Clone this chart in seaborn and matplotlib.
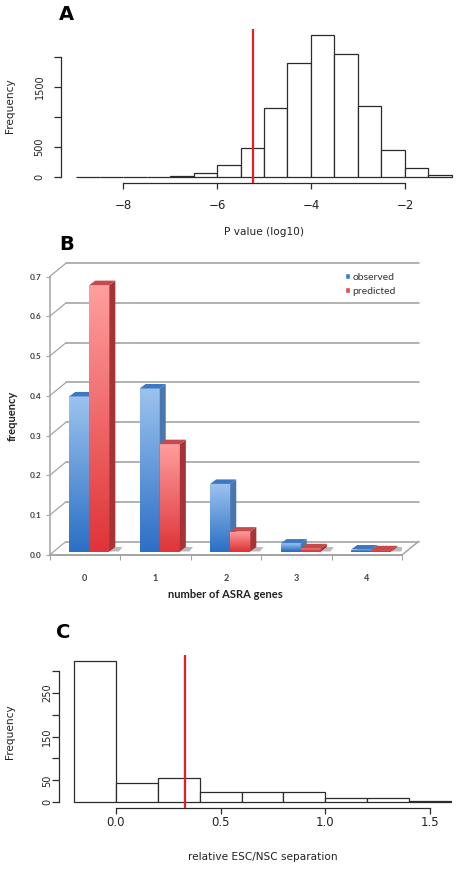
import numpy as np
import pandas as pd
import matplotlib
matplotlib.use("Agg")
import matplotlib.pyplot as plt
from matplotlib.patches import Polygon
from matplotlib.colors import LinearSegmentedColormap
import seaborn as sns

# ---- panel A: histogram of P values (log10)
a_edges = [-9.0, -8.5, -8.0, -7.5, -7.0, -6.5, -6.0, -5.5, -5.0,
           -4.5, -4.0, -3.5, -3.0, -2.5, -2.0, -1.5, -1.0]
a_counts = [0, 0, 0, 4, 25, 65, 200, 480, 1145, 1900, 2365, 2045, 1190, 460, 150, 30]
a_cutoff = -5.23
a_xticks = [-8, -6, -4, -2]
a_xlabels = ["\u22128", "\u22126", "\u22124", "\u22122"]
a_yticks = [0, 500, 1000, 1500, 2000]
a_ylabels = ["0", "500", "", "1500", ""]

# ---- panel B: observed vs predicted ASRA gene counts
b_genes = ["0", "1", "2", "3", "4"]
b_observed = [0.39, 0.41, 0.17, 0.02, 0.005]
b_predicted = [0.67, 0.27, 0.05, 0.008, 0.003]
b_yticks = [0.0, 0.1, 0.2, 0.3, 0.4, 0.5, 0.6, 0.7]

# ---- panel C: histogram of relative separation
c_edges = [-0.2, 0.0, 0.2, 0.4, 0.6, 0.8, 1.0, 1.2, 1.4, 1.6]
c_counts = [323, 43, 56, 24, 24, 24, 11, 11, 4]
c_cutoff = 0.33
c_xticks = [0.0, 0.5, 1.0, 1.5]
c_xlabels = ["0.0", "0.5", "1.0", "1.5"]
c_yticks = [0, 50, 100, 150, 200, 250, 300]
c_ylabels = ["0", "50", "", "150", "", "250", ""]

sns.set_theme(style="ticks")
plt.rcParams["font.family"] = ["DejaVu Sans"]

W, H = 457, 869
fig = plt.figure(figsize=(W / 100, H / 100), dpi=100)
fig.patch.set_facecolor("white")


def px_axes(left, top, right, bottom):
    return fig.add_axes([left / W, 1 - bottom / H, (right - left) / W, (bottom - top) / H])


def r_hist(ax, edges, counts, cutoff, xticks, xlabels, yticks, ylabels, xlabel,
           xpad, ypad, ylab_x, xlab_y):
    e = np.asarray(edges, dtype=float)
    df = pd.DataFrame({"mid": (e[:-1] + e[1:]) / 2, "count": counts})
    sns.histplot(data=df, x="mid", weights="count", bins=list(edges), stat="count",
                 color="white", edgecolor="#2b2b2b", linewidth=0.9, alpha=1, ax=ax)
    ax.axvline(cutoff, color="#ec1c24", lw=1.6, zorder=5)
    span = e[-1] - e[0]
    top = max(counts)
    ax.set_xlim(e[0] - 0.04 * span, e[-1] + 0.04 * span)
    ax.set_ylim(-0.04 * top, 1.04 * top)
    for s in ["top", "right"]:
        ax.spines[s].set_visible(False)
    for s in ["left", "bottom"]:
        ax.spines[s].set_color("#2b2b2b")
        ax.spines[s].set_linewidth(0.9)
    ax.spines["bottom"].set_bounds(xticks[0], xticks[-1])
    ax.spines["left"].set_bounds(yticks[0], yticks[-1])
    ax.set_xticks(xticks, labels=xlabels)
    ax.set_yticks(yticks, labels=ylabels)
    ax.tick_params(axis="x", length=4.2, width=0.9, color="#2b2b2b", labelsize=8.5,
                   pad=xpad, labelcolor="#222222")
    ax.tick_params(axis="y", length=4.8, width=0.9, color="#2b2b2b", labelsize=7,
                   pad=ypad, labelcolor="#222222")
    for lbl in ax.get_yticklabels():
        lbl.set_rotation(90)
        lbl.set_va("center")
    ax.set_ylabel("Frequency", fontsize=7.6, color="#222222")
    ax.yaxis.set_label_coords(ylab_x, 0.5)
    ax.yaxis.label.set_va("center")
    ax.set_xlabel(xlabel, fontsize=7.6, color="#222222")
    ax.xaxis.set_label_coords(0.5, xlab_y)
    ax.xaxis.label.set_va("center")
    ax.set_facecolor("white")


# ---------------- A
ax_a = px_axes(61, 29, 467, 183)
r_hist(ax_a, a_edges, a_counts, a_cutoff, a_xticks, a_xlabels, a_yticks, a_ylabels,
       "P value (log10)", xpad=7, ypad=7, ylab_x=(10 - 61) / 406, xlab_y=(183 - 232) / 154)

# ---------------- C
ax_c = px_axes(59, 655, 466, 808)
r_hist(ax_c, c_edges, c_counts, c_cutoff, c_xticks, c_xlabels, c_yticks, c_ylabels,
       "relative ESC/NSC separation", xpad=1.5, ypad=0, ylab_x=(10 - 59) / 407,
       xlab_y=(808 - 857) / 153)

# ---------------- B (Excel-like 3D column chart)
bl, bt, br, bb = 49.5, 276.7, 402, 555
ax_b = px_axes(bl, bt, br, bb)
series = ["observed", "predicted"]
df_b = pd.DataFrame({
    "genes": b_genes * 2,
    "frequency": b_observed + b_predicted,
    "series": [series[0]] * len(b_genes) + [series[1]] * len(b_genes),
})
sns.barplot(data=df_b, x="genes", y="frequency", hue="series", hue_order=series,
            palette={"observed": "#3b7dd0", "predicted": "#e84a4a"}, saturation=1,
            width=0.57, errorbar=None, ax=ax_b)
xmin, xmax, ymin, ymax = -0.5, len(b_genes) - 0.5, 0.0, 0.7
ax_b.set_xlim(xmin, xmax)
ax_b.set_ylim(ymin, ymax)
ux = (br - bl) / (xmax - xmin)   # px per data unit
uy = (bb - bt) / (ymax - ymin)

wall_dx, wall_dy = 16.5 / ux, 13.5 / uy
shift_x, shift_y = 4.5 / ux, 3.5 / uy
deep_x, deep_y = 6.0 / ux, 4.5 / uy
gridc = "#a4a4a4"

for v in b_yticks:
    ax_b.plot([xmin + wall_dx, xmax + wall_dx], [v + wall_dy, v + wall_dy],
              color=gridc, lw=1.2, clip_on=False, zorder=1)
    ax_b.plot([xmin, xmin + wall_dx], [v, v + wall_dy], color=gridc, lw=0.9,
              clip_on=False, zorder=1)
ax_b.plot([xmax, xmax + wall_dx], [0, wall_dy], color=gridc, lw=1.1, clip_on=False, zorder=1)

# front gradient bottom, gradient top, side face, top face
shades = {
    "observed": ("#2c70c6", "#9cc3ee", "#4a76ad", "#3f78c2"),
    "predicted": ("#df3538", "#ff9e9e", "#a63436", "#c54a4c"),
}
n = len(b_genes)
bar_info = [(p, series[i // n]) for i, p in enumerate(ax_b.patches[:2 * n])]
bar_info.sort(key=lambda t: t[0].get_x())
for k, (p, name) in enumerate(bar_info):
    base = shades[name]
    z = 3 + k * 0.5
    x0 = p.get_x() + shift_x
    w = p.get_width()
    h = p.get_height()
    p.set_x(x0)
    p.set_y(shift_y)
    p.set_linewidth(0)
    p.set_facecolor(base[0])
    p.set_zorder(z)
    x1, y0, y1 = x0 + w, shift_y, shift_y + h
    cm = LinearSegmentedColormap.from_list("g" + name, [base[0], base[1]])
    im = ax_b.imshow(np.linspace(0, 1, 64).reshape(-1, 1), extent=(x0, x1, y0, y1),
                     origin="lower", aspect="auto", cmap=cm, zorder=z + 0.1,
                     interpolation="bilinear")
    im.set_clip_path(p)
    # floor shadow
    ax_b.add_patch(Polygon([(x0 + deep_x, y0), (x1 + deep_x * 1.6, y0),
                            (x1 + deep_x * 2.2, y0 + deep_y), (x0 + deep_x, y0 + deep_y)],
                           closed=True, color="#8f8f8f", alpha=0.6, lw=0, zorder=2))
    ax_b.add_patch(Polygon([(x1, y0), (x1 + deep_x, y0 + deep_y),
                            (x1 + deep_x, y1 + deep_y), (x1, y1)],
                           closed=True, color=base[2], lw=0, zorder=z + 0.2))
    ax_b.add_patch(Polygon([(x0, y1), (x1, y1), (x1 + deep_x, y1 + deep_y),
                            (x0 + deep_x, y1 + deep_y)],
                           closed=True, color=base[3], lw=0, zorder=z + 0.3))

ax_b.set_xlim(xmin, xmax)
ax_b.set_ylim(ymin, ymax)
for s in ["top", "right"]:
    ax_b.spines[s].set_visible(False)
ax_b.spines["left"].set_color(gridc)
ax_b.spines["left"].set_linewidth(1.1)
ax_b.spines["bottom"].set_color(gridc)
ax_b.spines["bottom"].set_linewidth(1.4)
ax_b.set_yticks(b_yticks, labels=[f"{v:.1f}" for v in b_yticks])
ax_b.set_xticks(range(len(b_genes)), labels=b_genes)
ax_b.set_xticks(np.arange(xmin, xmax + 0.5), minor=True)
ax_b.tick_params(axis="x", which="major", length=0, pad=14, labelsize=6.5, labelcolor="#404040")
ax_b.tick_params(axis="x", which="minor", length=3.5, width=0.8, color=gridc)
ax_b.tick_params(axis="y", length=3, width=0.8, color=gridc, pad=3, labelsize=6,
                 labelcolor="#404040")
for lbl in ax_b.get_xticklabels() + ax_b.get_yticklabels():
    lbl.set_family(["Lato", "DejaVu Sans"])
    lbl.set_fontweight("bold")
ax_b.set_facecolor("none")
ax_b.set_ylabel("frequency", fontsize=8, fontweight="bold", family=["Lato", "DejaVu Sans"],
                color="#222222")
ax_b.yaxis.set_label_coords((12 - bl) / (br - bl), (bb - 416) / (bb - bt))
ax_b.yaxis.label.set_va("center")
ax_b.set_xlabel("number of ASRA genes", fontsize=8, fontweight="bold",
                family=["Lato", "DejaVu Sans"], color="#222222")
ax_b.xaxis.set_label_coords(0.5, (bb - 594) / (bb - bt))
ax_b.xaxis.label.set_va("center")
sns.move_legend(ax_b, "upper left", bbox_to_anchor=((345 - bl) / (br - bl), (bb - 273) / (bb - bt)),
                frameon=False, title=None, fontsize=7.5, handlelength=0.45, handleheight=0.45,
                handletextpad=0.25, labelspacing=0.45, borderaxespad=0, borderpad=0)
for t in ax_b.get_legend().get_texts():
    t.set_family(["Lato", "DejaVu Sans"])
    t.set_color("#333333")

# panel letters
for letter, x, y in [("A", 66, 15), ("B", 67, 245), ("C", 63, 633)]:
    fig.text(x / W, 1 - y / H, letter, fontsize=14, fontweight="bold",
             ha="center", va="center", color="black")

fig.savefig("out.png", dpi=100, facecolor="white")
